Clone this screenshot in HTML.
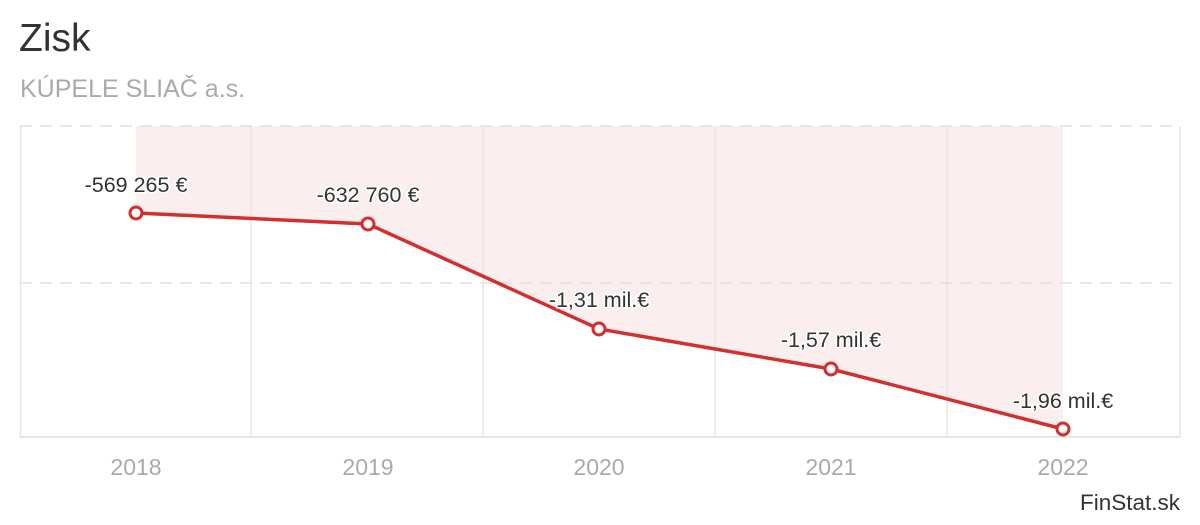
<!DOCTYPE html><html><head><style>body{margin:0;background:#fff;width:1200px;height:520px;overflow:hidden;font-family:"Liberation Sans",sans-serif}</style></head><body>
<svg width="1200" height="520" xmlns="http://www.w3.org/2000/svg" font-family="Liberation Sans, sans-serif">
<text x="19" y="51" font-size="39" fill="#333">Zisk</text>
<text x="20" y="97" font-size="25" fill="#aaa">KÚPELE SLIAČ a.s.</text>
<polygon points="136,126 1063,126 1063,429 831,369 599,329 368,224 136,213" fill="#fbeeee"/>
<g stroke="#e6e6e6" stroke-width="1.5">
<line x1="20.5" y1="126" x2="20.5" y2="437"/><line x1="251" y1="126" x2="251" y2="437"/><line x1="483" y1="126" x2="483" y2="437"/><line x1="715" y1="126" x2="715" y2="437"/><line x1="947" y1="126" x2="947" y2="437"/><line x1="1180" y1="126" x2="1180" y2="437"/>
</g>
<g stroke="#e0e0e0" stroke-width="1.5" stroke-dasharray="12,8">
<line x1="20" y1="126" x2="1180" y2="126"/><line x1="20" y1="283" x2="1180" y2="283"/></g>
<line x1="20" y1="437" x2="1180" y2="437" stroke="#ddd" stroke-width="1.5"/>
<polyline points="136,213 368,224 599,329 831,369 1063,429" fill="none" stroke="#d32f2f" stroke-width="3.5"/>
<g fill="#fff" stroke="#d32f2f" stroke-width="3"><circle cx="136" cy="213" r="6"/><circle cx="368" cy="224" r="6"/><circle cx="599" cy="329" r="6"/><circle cx="831" cy="369" r="6"/><circle cx="1063" cy="429" r="6"/></g>
<g font-size="21.5" fill="#333" text-anchor="middle" stroke="#fff" stroke-width="3" paint-order="stroke">
<text x="136" y="192">-569 265 €</text><text x="368" y="202">-632 760 €</text><text x="599" y="307">-1,31 mil.€</text><text x="831" y="347">-1,57 mil.€</text><text x="1063" y="408">-1,96 mil.€</text></g>
<g font-size="23" fill="#aaa" text-anchor="middle"><text x="136" y="475">2018</text><text x="368" y="475">2019</text><text x="599" y="475">2020</text><text x="831" y="475">2021</text><text x="1063" y="475">2022</text></g>
<text x="1180" y="510" font-size="22.5" fill="#333" text-anchor="end">FinStat.sk</text>
</svg></body></html>
